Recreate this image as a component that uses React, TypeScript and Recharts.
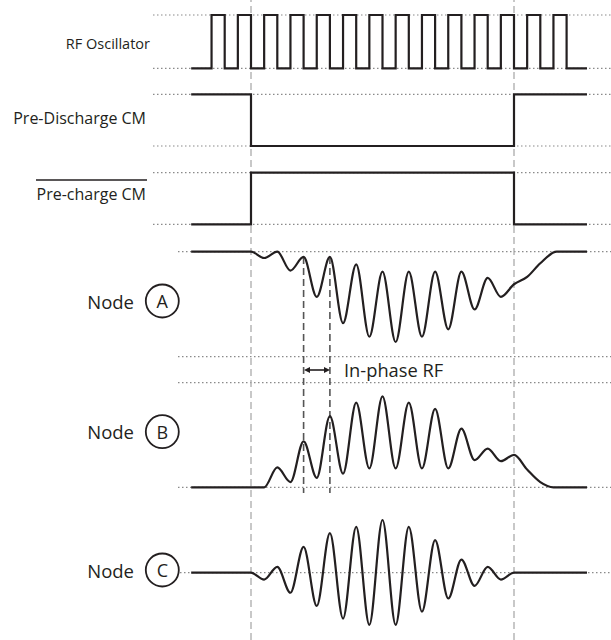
import { ComposedChart, Line, XAxis, YAxis, ReferenceLine } from 'recharts';

// time axis: 1 unit = half an RF period, 0 = end of pre-discharge
const T_START = -4.55;
const T_END = 25.55;

const rfTimes = [T_START, -3, -2, -1, 0, 1, 2, 3, 4, 5, 6, 7, 8, 9, 10, 11, 12, 13, 14, 15, 16, 17, 18, 19, 20, 21, 22, 23, 24, T_END];
const rfLevels = [0, 1, 0, 1, 0, 1, 0, 1, 0, 1, 0, 1, 0, 1, 0, 1, 0, 1, 0, 1, 0, 1, 0, 1, 0, 1, 0, 1, 0, 0];

const pdTimes = [T_START, 0, 20, T_END];
const pdLevels = [1, 0, 1, 1];
const pcTimes = [T_START, 0, 20, T_END];
const pcLevels = [0, 1, 0, 0];

// node waveforms, read at their peaks and troughs
const nodeATimes = [T_START, 0, 1, 2, 3, 4, 5, 6, 7, 8, 9, 10, 11, 12, 13, 14, 15, 16, 17, 18, 19, 20, 21, 22, 23.25, T_END];
const nodeAValues = [1, 1, 0.94, 1.0, 0.82, 0.95, 0.57, 0.95, 0.32, 0.88, 0.19, 0.81, 0.14, 0.81, 0.19, 0.81, 0.26, 0.81, 0.45, 0.75, 0.57, 0.69, 0.76, 0.89, 1.0, 1.0];

const nodeBTimes = [T_START, 1, 2, 3, 4, 5, 6, 7, 8, 9, 10, 11, 12, 13, 14, 15, 16, 17, 18, 19, 20, 21, 22, 23, T_END];
const nodeBValues = [0, 0, 0.19, 0.05, 0.44, 0.09, 0.68, 0.13, 0.81, 0.18, 0.87, 0.18, 0.81, 0.18, 0.75, 0.18, 0.56, 0.26, 0.37, 0.25, 0.31, 0.17, 0.05, 0, 0];

const nodeCTimes = [T_START, 0, 1, 2, 3, 4, 5, 6, 7, 8, 9, 10, 11, 12, 13, 14, 15, 16, 17, 18, 19, 20, T_END];
const nodeCValues = [0, 0, -0.13, 0.11, -0.38, 0.49, -0.63, 0.75, -0.87, 0.87, -0.99, 1.0, -0.99, 0.87, -0.74, 0.62, -0.49, 0.25, -0.25, 0.11, -0.13, 0, 0];

const markerTimes = [0, 20];
const inPhaseTimes = [4, 6];

// layout (pixel rows for each lane)
const W = 611;
const H = 640;
const X0 = 251;
const PX_PER_T = 13.15;
const tOf = (px: number) => (px - X0) / PX_PER_T;

const rfLane = { hi: 15, lo: 68.3 };
const pdLane = { hi: 94.3, lo: 146 };
const pcLane = { hi: 172.7, lo: 224.3 };
const aLane = { hi: 251.7, lo: 356.7 };
const bLane = { hi: 382.7, lo: 487.3 };
const cLane = { mid: 572.7, amp: 52.7 };

const toLane = (times: number[], vals: number[], lane: { hi: number; lo: number }) =>
  times.map((t, i) => ({ t, y: lane.lo - vals[i] * (lane.lo - lane.hi) }));

const rfData = toLane(rfTimes, rfLevels, rfLane);
const pdData = toLane(pdTimes, pdLevels, pdLane);
const pcData = toLane(pcTimes, pcLevels, pcLane);
const aData = toLane(nodeATimes, nodeAValues, aLane);
const bData = toLane(nodeBTimes, nodeBValues, bLane);
const cData = nodeCTimes.map((t, i) => ({ t, y: cLane.mid - nodeCValues[i] * cLane.amp }));

const guides = [
  { y: rfLane.hi, from: 153 }, { y: rfLane.lo, from: 153 },
  { y: pdLane.hi, from: 153 }, { y: pdLane.lo, from: 153 },
  { y: pcLane.hi, from: 153 }, { y: pcLane.lo, from: 153 },
  { y: aLane.hi, from: 178 }, { y: aLane.lo, from: 178 },
  { y: bLane.hi, from: 178 }, { y: bLane.lo, from: 178 },
  { y: cLane.mid, from: 180 },
];

const series = [
  { key: 'rf', data: rfData, type: 'stepAfter' },
  { key: 'pd', data: pdData, type: 'stepAfter' },
  { key: 'pc', data: pcData, type: 'stepAfter' },
  { key: 'a', data: aData, type: 'monotone' },
  { key: 'b', data: bData, type: 'monotone' },
  { key: 'c', data: cData, type: 'monotone' },
];

const INK = '#231f20';
const FONT = '"Open Sans", sans-serif';

const nodeLabels = [
  { letter: 'A', y: 301 },
  { letter: 'B', y: 431.7 },
  { letter: 'C', y: 570 },
];

export default function App() {
  return (
    <div style={{ position: 'absolute', left: 0, top: 0, width: W, height: H, background: '#fff' }}>
      <ComposedChart width={W} height={H} margin={{ top: 0, right: 0, bottom: 0, left: 0 }}>
        <XAxis hide type="number" dataKey="t" domain={[tOf(0), tOf(W)]} allowDataOverflow />
        <YAxis hide type="number" domain={[0, H]} reversed allowDataOverflow />
        {guides.map((g, i) => (
          <ReferenceLine key={'g' + i} segment={[{ x: tOf(g.from), y: g.y }, { x: tOf(W), y: g.y }]}
            stroke="#8a8a8a" strokeWidth={1.2} strokeDasharray="1.5 2.5" />
        ))}
        {markerTimes.map((t) => (
          <ReferenceLine key={'m' + t} x={t} stroke="#ababab" strokeWidth={1.3} strokeDasharray="7 4" />
        ))}
        {inPhaseTimes.map((t) => (
          <ReferenceLine key={'p' + t} segment={[{ x: t, y: 257 }, { x: t, y: 493 }]}
            stroke="#555" strokeWidth={1.6} strokeDasharray="7 4" />
        ))}
        {series.map((s) => (
          <Line key={s.key} data={s.data} dataKey="y" type={s.type as any} stroke={INK} strokeWidth={2.2}
            strokeLinecap="butt" dot={false} activeDot={false} isAnimationActive={false} />
        ))}
      </ComposedChart>
      <svg width={W} height={H} style={{ position: 'absolute', left: 0, top: 0, pointerEvents: 'none' }}
        fontFamily={FONT} fill={INK}>
        <text x={150} y={43} fontSize={14.5} textAnchor="end" dominantBaseline="central">RF Oscillator</text>
        <text x={146} y={118} fontSize={16} textAnchor="end" dominantBaseline="central">Pre-Discharge CM</text>
        <text x={146} y={194} fontSize={16} textAnchor="end" dominantBaseline="central">Pre-charge CM</text>
        <line x1={36} x2={147} y1={180} y2={180} stroke={INK} strokeWidth={1.5} />
        {nodeLabels.map((n) => (
          <g key={n.letter}>
            <text x={134} y={n.y} fontSize={18.5} textAnchor="end" dominantBaseline="central">Node</text>
            <circle cx={162.3} cy={n.y} r={16.5} fill="#fff" stroke={INK} strokeWidth={1.8} />
            <text x={162.3} y={n.y} fontSize={18} textAnchor="middle" dominantBaseline="central">{n.letter}</text>
          </g>
        ))}
        <line x1={308} x2={326} y1={370} y2={370} stroke={INK} strokeWidth={1.6} />
        <path d="M304,370 L310,367 L310,373 Z" fill={INK} />
        <path d="M330,370 L324,367 L324,373 Z" fill={INK} />
        <text x={344} y={369} fontSize={18.3} dominantBaseline="central">In-phase RF</text>
      </svg>
    </div>
  );
}
